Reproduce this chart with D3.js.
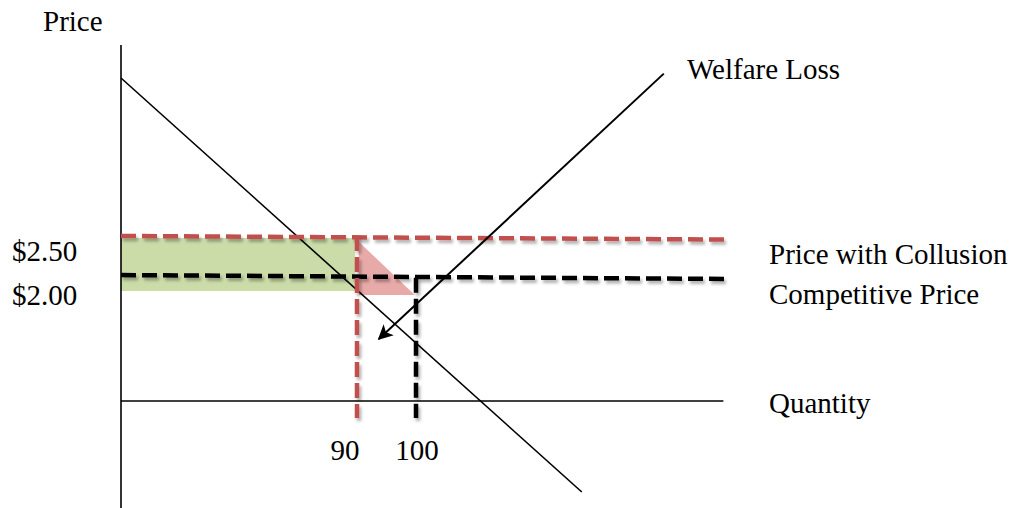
<!DOCTYPE html>
<html>
<head>
<meta charset="utf-8">
<script src="https://cdn.jsdelivr.net/npm/d3@7"></script>
<style>
  html, body { margin: 0; padding: 0; background: #fff; }
  svg { display: block; }
  text { font-family: "Liberation Serif", "Times New Roman", serif; fill: #000; }
</style>
</head>
<body>
<svg id="chart" width="1011" height="508"></svg>
<script>
// ---- data (economic units: quantity, price) ----
const quantityTicks = [90, 100];
const quantityTickLabels = ["90", "100"];
const priceTicks = [2.5, 2.0];
const priceTickLabels = ["$2.50", "$2.00"];
const demandCurve = [[50, 4.427], [128.1, -0.622]];
const welfareArrow = [[142.0, 4.48], [93.7, 1.244]];
const collusionPriceLine = [[50, 2.5], [152.4, 2.457]];
const competitivePriceLine = [[50, 2.024], [152.4, 1.976]];
const collusionQuantityLine = [[90, 2.5], [90, 0.28]];
const competitiveQuantityLine = [[100, 1.99], [100, 0.28]];
const consumerTransfer = [[50, 2.476], [89.7, 2.476], [89.7, 1.83], [50, 1.83]];
const deadweightLoss = [[90.3, 2.43], [90.3, 1.78], [99.8, 1.78]];
const priceAxis = [[50, 4.83], [50, -0.82]];
const quantityAxis = [[50, 0.488], [152.1, 0.488]];

// ---- scales ----
const x = d3.scaleLinear().domain([90, 100]).range([357, 416]);
const y = d3.scaleLinear().domain([2.0, 2.5]).range([277, 236]);
const line = d3.line().x(d => x(d[0])).y(d => y(d[1]));

const svg = d3.select("#chart");
const defs = svg.append("defs");
const f = defs.append("filter").attr("id", "shadow")
  .attr("filterUnits", "userSpaceOnUse")
  .attr("x", 0).attr("y", 0).attr("width", 1011).attr("height", 508);
f.append("feDropShadow").attr("dx", 2).attr("dy", 3).attr("stdDeviation", 1.6)
  .attr("flood-color", "#000").attr("flood-opacity", 0.3);
defs.append("marker").attr("id", "arrow")
  .attr("viewBox", "0 0 10 10").attr("refX", 9).attr("refY", 5)
  .attr("markerWidth", 19).attr("markerHeight", 15).attr("markerUnits", "userSpaceOnUse")
  .attr("orient", "auto")
  .append("path").attr("d", "M0,0 L10,5 L0,10 L2.5,5 Z").attr("fill", "#000");

// areas
svg.append("path").attr("d", line(consumerTransfer) + "Z").attr("fill", "#cbdca9");
svg.append("path").attr("d", line(deadweightLoss) + "Z").attr("fill", "#e8aaa9");

// axes
svg.append("path").attr("d", line(priceAxis)).attr("stroke", "#000").attr("stroke-width", 1.6).attr("fill", "none");
svg.append("path").attr("d", line(quantityAxis)).attr("stroke", "#000").attr("stroke-width", 1.6).attr("fill", "none");

// demand
svg.append("path").attr("d", line(demandCurve)).attr("stroke", "#000").attr("stroke-width", 1.6).attr("fill", "none");

// dashed lines
const dashed = [
  [collusionPriceLine, "#c0504d"],
  [competitivePriceLine, "#000"],
  [collusionQuantityLine, "#c0504d"],
  [competitiveQuantityLine, "#000"]
];
dashed.forEach(([pts, c]) => {
  svg.append("path").attr("d", line(pts)).attr("stroke", c).attr("stroke-width", 4.5)
    .attr("stroke-dasharray", "15,6").attr("fill", "none").attr("filter", "url(#shadow)");
});

// welfare arrow
svg.append("path").attr("d", line(welfareArrow)).attr("stroke", "#000").attr("stroke-width", 2)
  .attr("fill", "none").attr("marker-end", "url(#arrow)");

// text
const fs = 29;
svg.append("text").attr("x", 43).attr("y", 31).attr("font-size", fs).text("Price");
svg.append("text").attr("x", 687).attr("y", 79).attr("font-size", fs).text("Welfare Loss");
svg.append("text").attr("x", 769).attr("y", 264).attr("font-size", fs).text("Price with Collusion");
svg.append("text").attr("x", 769).attr("y", 304).attr("font-size", fs).text("Competitive Price");
svg.append("text").attr("x", 769).attr("y", 413).attr("font-size", fs).text("Quantity");

const priceDy = [25, 28];
priceTicks.forEach((p, i) => {
  svg.append("text").attr("x", 12).attr("y", y(p) + priceDy[i]).attr("font-size", fs).text(priceTickLabels[i]);
});
const qDx = [-12, 1];
quantityTicks.forEach((q, i) => {
  svg.append("text").attr("x", x(q) + qDx[i]).attr("y", 460).attr("text-anchor", "middle")
    .attr("font-size", fs).text(quantityTickLabels[i]);
});
</script>
</body>
</html>
